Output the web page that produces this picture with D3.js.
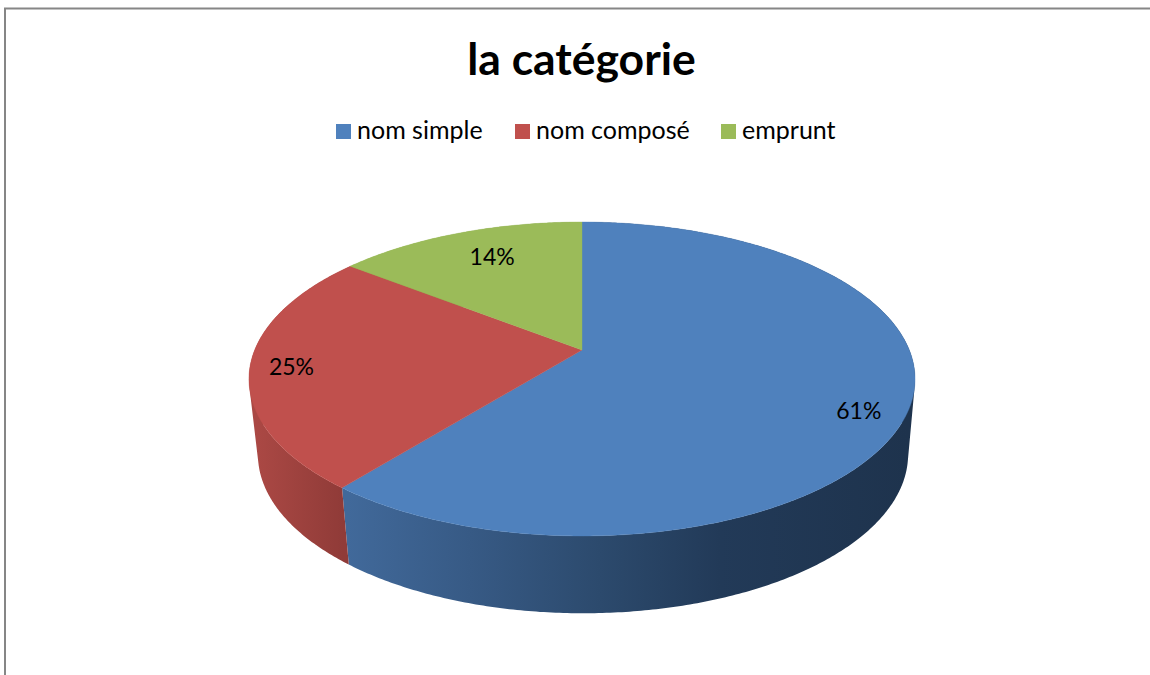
<!DOCTYPE html>
<html>
<head>
<meta charset="utf-8">
<script src="https://cdn.jsdelivr.net/npm/d3@7"></script>
<style>
  html, body { margin: 0; padding: 0; background: #fff; overflow: hidden; }
  text { font-family: Lato, "Open Sans", sans-serif; fill: #000; }
</style>
</head>
<body>
<svg id="chart" width="1150" height="675"></svg>
<script>
// Data
const categories = ['nom simple', 'nom composé', 'emprunt'];
const shares = [60.8, 24.75, 14.45];
const shareLabels = ['61%', '25%', '14%'];
const topColors = ['#4f81bd', '#c0504d', '#9bbb59'];
const chartTitle = 'la catégorie';

const svg = d3.select('#chart');
const defs = svg.append('defs');

// frame, cut off by the right and bottom edge of the picture
svg.append('path')
  .attr('d', 'M5,675V8.5H1150')
  .attr('fill', 'none')
  .attr('stroke', '#868686')
  .attr('stroke-width', 2);

svg.append('text')
  .attr('x', 581.5)
  .attr('y', 75)
  .attr('text-anchor', 'middle')
  .attr('font-size', 44.5)
  .attr('font-weight', 700)
  .text(chartTitle);

// legend
const legendX = d3.scaleOrdinal().domain(categories).range([336, 515, 721]);
const legend = svg.append('g').selectAll('g')
  .data(categories)
  .join('g')
  .attr('transform', d => `translate(${legendX(d)},124)`);
legend.append('rect')
  .attr('width', 15)
  .attr('height', 15)
  .attr('fill', (d, i) => topColors[i]);
legend.append('text')
  .attr('x', 21)
  .attr('y', 15)
  .attr('font-size', 25)
  .text(d => d);

// perspective of the disc: unit circle -> screen
const tilt = 0.1847;
function projector(cx, cy, rx, ry) {
  return function (r, a) {
    const u = r * Math.sin(a), v = -r * Math.cos(a);
    const w = 1 - tilt * v;
    return [cx + rx * u / w, cy + ry * v / w];
  };
}
const topFace = projector(582, 350, 327.3, 151.6);
const bottomFace = projector(583, 425, 319.5, 153.5);

const arcs = d3.pie().sort(null).startAngle(0).endAngle(2 * Math.PI)(shares);

function samples(a0, a1) {
  const n = Math.max(2, Math.ceil((a1 - a0) / 0.01));
  return d3.range(n + 1).map(i => a0 + (a1 - a0) * i / n);
}

// side wall shading runs left to right
const sideStops = [
  [[348, '#41699a'], [470, '#375a85'], [600, '#2c4a6d'], [720, '#223a58'], [908, '#1e334d']],
  [[258, '#aa4844'], [343, '#903b38']],
  [[350, '#9bbb59'], [582, '#7d9848']]
];
sideStops.forEach((stops, i) => {
  const g = defs.append('linearGradient')
    .attr('id', 'side' + i)
    .attr('gradientUnits', 'userSpaceOnUse')
    .attr('x1', stops[0][0]).attr('x2', stops[stops.length - 1][0])
    .attr('y1', 0).attr('y2', 0);
  const pos = d3.scaleLinear().domain([stops[0][0], stops[stops.length - 1][0]]).range([0, 1]);
  stops.forEach(s => g.append('stop').attr('offset', pos(s[0])).attr('stop-color', s[1]));
});

const line = d3.line();

// walls as thin strips, all wound the same way or the overlaps cancel out
function strip(a, b) {
  const quad = [topFace(1, a), topFace(1, b), bottomFace(1, b), bottomFace(1, a)];
  if (d3.polygonArea(quad) < 0) quad.reverse();
  return line(quad) + 'Z';
}

svg.append('g').selectAll('path')
  .data(arcs)
  .join('path')
  .attr('fill', (d, i) => `url(#side${i})`)
  .attr('d', d => d3.pairs(samples(d.startAngle, d.endAngle)).map(([a, b]) => strip(a, b)).join(''));

svg.append('g').selectAll('path')
  .data(arcs)
  .join('path')
  .attr('fill', (d, i) => topColors[i])
  .attr('stroke', (d, i) => topColors[i])
  .attr('stroke-width', 0.4)
  .attr('d', d => line([topFace(0, 0)].concat(samples(d.startAngle, d.endAngle).map(a => topFace(1, a)))) + 'Z');

// best-fit label spots: radius on the slice, then a small nudge
const labelRadius = [0.85, 0.88, 0.69];
const labelNudge = [[0, 16], [1, 1], [-1, -9]];
svg.append('g').selectAll('text')
  .data(arcs)
  .join('text')
  .attr('text-anchor', 'middle')
  .attr('font-size', 23)
  .attr('transform', (d, i) => {
    const p = topFace(labelRadius[i], (d.startAngle + d.endAngle) / 2);
    return `translate(${p[0] + labelNudge[i][0]},${p[1] + 8 + labelNudge[i][1]})`;
  })
  .text((d, i) => shareLabels[i]);
</script>
</body>
</html>
